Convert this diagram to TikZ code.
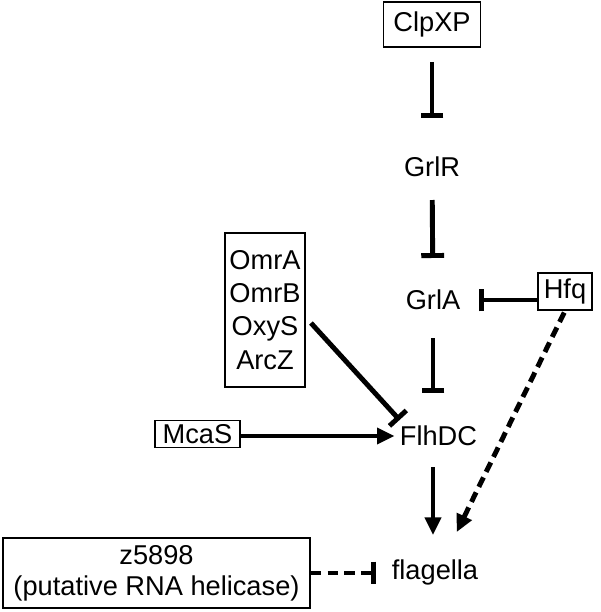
\documentclass[tikz,border=0pt]{standalone}
\usepackage{fontspec}
\setmainfont{Liberation Sans}
\usetikzlibrary{arrows.meta,positioning,calc}

\begin{document}
\begin{tikzpicture}[
  x=0.02cm, y=0.02cm,
  box/.style={rectangle,draw,line width=1.1pt,inner sep=0pt,align=center,
              font=\fontsize{15.5}{18.9}\selectfont},
  lbl/.style={inner sep=0pt,text height=11pt,text depth=0pt,
              font=\fontsize{15.5}{18.9}\selectfont},
  inh/.style={-{Bar[width=13pt]},line width=2.8pt},
  act/.style={-{Triangle[length=10pt,width=9pt]},line width=2.8pt},
  dsh/.style={dash pattern=on 6pt off 3.5pt}
]
  \useasboundingbox (0,0) rectangle (600,612);

  \node[box,minimum width=1.94cm,minimum height=0.9cm] (clpxp) at (432,587.5) {ClpXP};
  \node[lbl] (grlr) at (432,445) {GrlR};
  \node[lbl] (grla) at (433,312) {GrlA};
  \node[lbl] (flhdc) at (438.5,176) {FlhDC};
  \node[lbl] (flagella) at (435,42) {flagella};
  \node[box,minimum width=1.08cm,minimum height=0.74cm] (hfq) at (565,320.5) {Hfq};
  \node[box,minimum width=1.6cm,minimum height=3.08cm] (srna) at (265,302) {OmrA\\OmrB\\OxyS\\ArcZ};
  \node[box,minimum width=1.7cm,minimum height=0.54cm] (mcas) at (197.5,178) {McaS};
  \node[box,minimum width=6.14cm,minimum height=1.4cm,
        font=\fontsize{15.5}{17.6}\selectfont] (z5898) at (156.5,39) {z5898\\(putative RNA helicase)};

  \draw[inh,shorten <=0.28cm,shorten >=0.78cm] (clpxp) -- (grlr);
  \draw[inh,shorten <=0.46cm,shorten >=0.64cm] (grlr) -- (grla);
  \draw[inh,shorten <=0.56cm,shorten >=0.66cm] (grla) -- (grla |- flhdc.north);
  \draw[act,shorten <=0.42cm,shorten >=0.5cm] (grla |- flhdc.south) -- (grla |- flagella.north);
  \draw[inh,shorten >=0.36cm] (hfq.west |- grla.east) -- (grla.east);
  \draw[act,dsh,shorten <=1pt,shorten >=0.62cm] (hfq.south) -- ($(flagella.north)+(8,0)$);
  \draw[inh] ($(srna.east)+(5,-13)$) -- ($(flhdc.north west)+(0,6)$);
  \draw[act,shorten >=0.1cm] (mcas.east |- flhdc.west) -- (flhdc.west);
  \draw[inh,dsh,shorten >=0.32cm] (z5898.east) -- (flagella.west |- z5898.east);
\end{tikzpicture}
\end{document}
